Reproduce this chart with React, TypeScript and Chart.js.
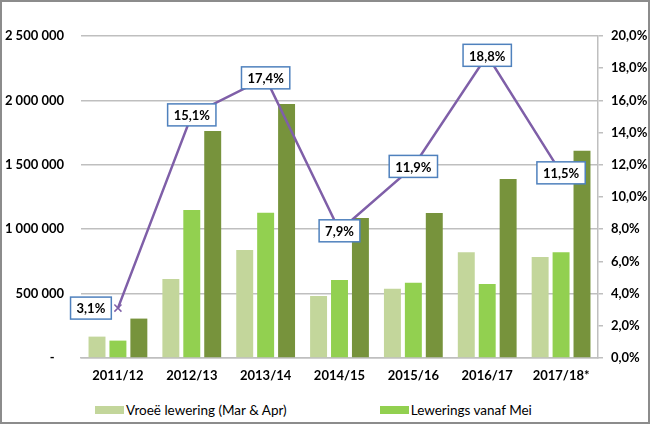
import React, { useEffect, useRef } from "react";
import { Chart, registerables } from "chart.js";

Chart.register(...registerables);
Chart.defaults.font.family = "Lato";

const seasons = ["2011/12", "2012/13", "2013/14", "2014/15", "2015/16", "2016/17", "2017/18*"];
const earlyDelivery = [166000, 613000, 838000, 481000, 538000, 821000, 784000];
const fromMay = [135000, 1149000, 1128000, 606000, 585000, 575000, 821000];
const totalDelivery = [306000, 1762000, 1972000, 1087000, 1126000, 1390000, 1610000];
const earlyShare = [3.1, 15.1, 17.4, 7.9, 11.9, 18.8, 11.5];

const LIGHT = "#C3D69B";
const MID = "#92D050";
const DARK = "#77933C";
const PURPLE = "#7F5FA8";
const GRID = "#BFBFBF";

const fmtPct = (v: number) => v.toFixed(1).replace(".", ",") + "%";
const fmtNum = (v: number) =>
  v === 0 ? "-   " : String(v).replace(/\B(?=(\d{3})+(?!\d))/g, " ");

// draws the boxed percentage labels on the line points
const labelBoxes = {
  id: "labelBoxes",
  afterDatasetsDraw(chart: Chart) {
    const meta = chart.getDatasetMeta(3);
    const ctx = chart.ctx;
    ctx.save();
    ctx.font = "bold 13px Lato";
    ctx.textAlign = "center";
    ctx.textBaseline = "middle";
    meta.data.forEach((pt: any, i: number) => {
      const text = fmtPct(earlyShare[i]);
      const w = ctx.measureText(text).width + 12;
      const h = 22;
      let cx = pt.x;
      const cy = pt.y;
      if (i === 0) cx -= 27;
      ctx.fillStyle = "#fff";
      ctx.fillRect(cx - w / 2, cy - h / 2, w, h);
      ctx.strokeStyle = "#4F81BD";
      ctx.lineWidth = 1.5;
      ctx.strokeRect(cx - w / 2, cy - h / 2, w, h);
      ctx.fillStyle = "#000";
      ctx.fillText(text, cx, cy + 1);
    });
    ctx.restore();
  },
};

const App: React.FC = () => {
  const canvasRef = useRef<HTMLCanvasElement | null>(null);
  const chartRef = useRef<Chart | null>(null);

  useEffect(() => {
    const ctx = canvasRef.current?.getContext("2d");
    if (!ctx) return;
    if (chartRef.current) chartRef.current.destroy();

    const barOpts = { categoryPercentage: 0.85, barPercentage: 0.81, yAxisID: "y", order: 1 };
    const tickFont = { size: 13, weight: "bold" as const };

    chartRef.current = new Chart(ctx, {
      type: "bar",
      data: {
        labels: seasons,
        datasets: [
          { label: "Vroeë lewering (Mar & Apr)", data: earlyDelivery, backgroundColor: LIGHT, ...barOpts },
          { label: "Lewerings vanaf Mei", data: fromMay, backgroundColor: MID, ...barOpts },
          { label: "Totale lewering", data: totalDelivery, backgroundColor: DARK, ...barOpts },
          {
            type: "line" as any,
            label: "% Vroeë lewering",
            data: earlyShare,
            yAxisID: "y2",
            order: 0,
            borderColor: PURPLE,
            borderWidth: 2.5,
            pointStyle: "crossRot",
            pointRadius: 5,
            pointBorderColor: PURPLE,
            pointBorderWidth: 1.5,
            fill: false,
          } as any,
        ],
      },
      options: {
        animation: false,
        responsive: true,
        maintainAspectRatio: false,
        layout: { padding: { top: 34, left: 0, right: 0, bottom: 0 } },
        plugins: { legend: { display: false }, tooltip: { enabled: false } },
        scales: {
          x: {
            grid: { drawOnChartArea: false, drawTicks: false },
            border: { color: GRID, width: 1.5 },
            ticks: { color: "#000", font: tickFont, padding: 10 },
            afterFit: (s: any) => {
              s.height = 42;
            },
          },
          y: {
            position: "left",
            min: 0,
            max: 2500000,
            ticks: { stepSize: 500000, color: "#000", font: tickFont, padding: 17, callback: (v: any) => fmtNum(Number(v)) },
            grid: { color: GRID, lineWidth: 1.5, drawTicks: false },
            border: { display: false },
            afterFit: (s: any) => {
              s.width = 79;
            },
          },
          y2: {
            position: "right",
            min: 0,
            max: 20,
            ticks: { stepSize: 2, color: "#000", font: tickFont, padding: 8, callback: (v: any) => fmtPct(Number(v)) },
            grid: { drawOnChartArea: false, tickLength: 5, color: GRID, lineWidth: 1.5 },
            border: { color: GRID, width: 1.5 },
            afterFit: (s: any) => {
              s.width = 50;
            },
          },
        },
      },
      plugins: [labelBoxes],
    });

    return () => {
      if (chartRef.current) {
        chartRef.current.destroy();
        chartRef.current = null;
      }
    };
  }, []);

  const legendItems = [
    { label: "Vroeë lewering (Mar & Apr)", color: LIGHT },
    { label: "Lewerings vanaf Mei", color: MID },
  ];

  return (
    <div
      style={{
        position: "absolute",
        left: 0,
        top: 0,
        width: 650,
        height: 424,
        boxSizing: "border-box",
        border: "2px solid #8C8C8C",
        background: "#fff",
        overflow: "hidden",
      }}
    >
      <div style={{ position: "relative", width: 646, height: 398 }}>
        <canvas ref={canvasRef}></canvas>
      </div>
      <div
        style={{
          position: "absolute",
          left: 93,
          top: 400,
          display: "flex",
          gap: 93,
          fontFamily: "Lato",
          fontSize: 13.5,
          color: "#000",
          whiteSpace: "nowrap",
        }}
      >
        {legendItems.map((it) => (
          <div key={it.label} style={{ display: "flex", alignItems: "center" }}>
            <span style={{ display: "inline-block", width: 29, height: 8, background: it.color, marginRight: 2 }} />
            <span>{it.label}</span>
          </div>
        ))}
      </div>
    </div>
  );
};

export default App;
